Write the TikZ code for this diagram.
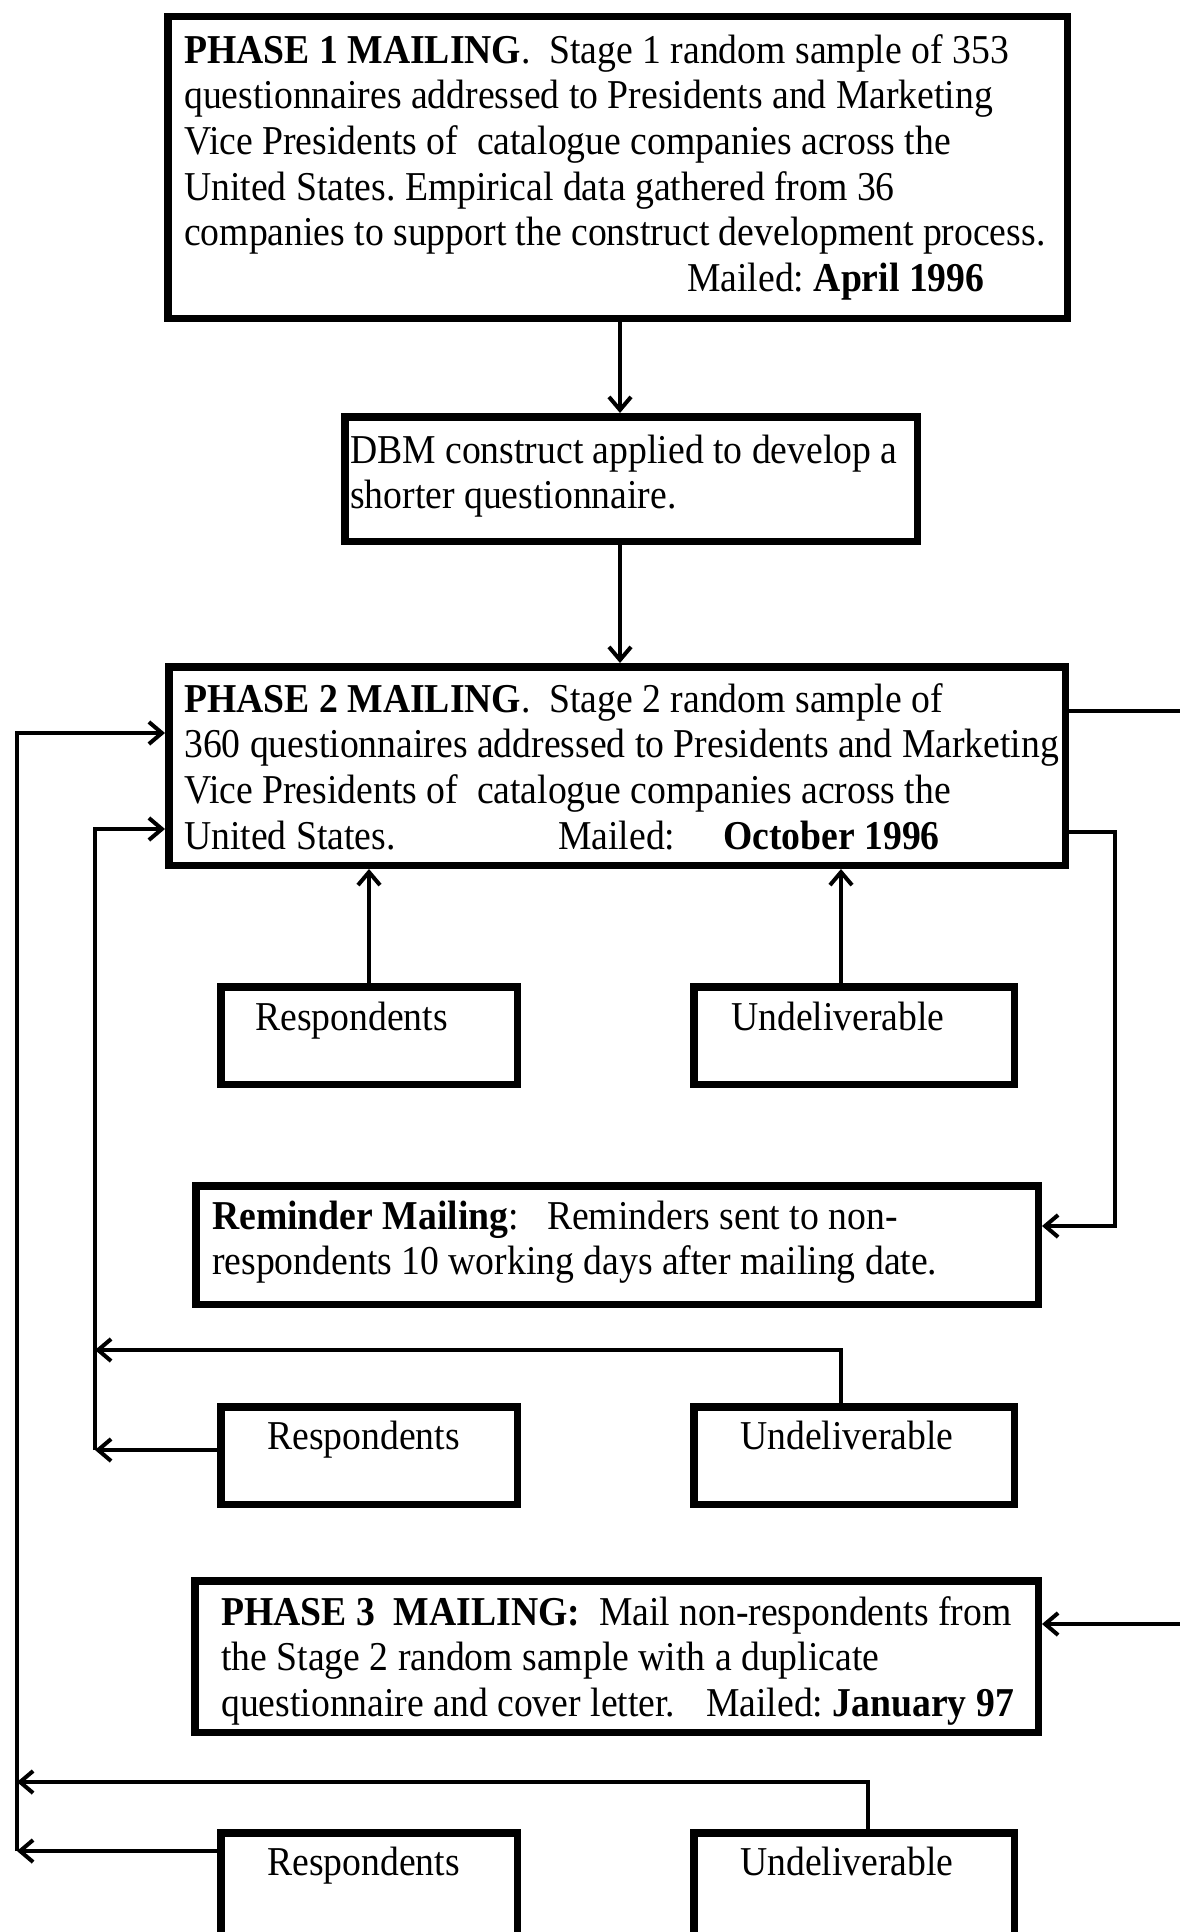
\documentclass[tikz,border=0pt]{standalone}
\usepackage{fontspec}
\setmainfont{Liberation Serif}[FakeStretch=0.919]
\usetikzlibrary{arrows.meta}
\newcommand\bodyfont{\fontsize{41pt}{45.6pt}\selectfont\frenchspacing}
\newcommand\firstline{\rule{0pt}{32pt}}

\begin{document}
\begin{tikzpicture}[x=1pt,y=-1pt,
  box/.style={draw, line width=7.5pt, rectangle, inner sep=0pt},
  txt/.style={anchor=north west, inner sep=0pt, align=left, font=\bodyfont},
  lbl/.style={anchor=base west, inner sep=0pt, font=\bodyfont},
  conn/.style={line width=4pt},
  arr/.style={conn, -{Straight Barb[length=13pt,width=22pt,line width=4pt]}}]

\fill[white] (0,0) rectangle (1179,1932);
\path[use as bounding box] (0,0) rectangle (1179,1932);

% ---------- boxes ----------
\node[box, minimum width=899.5pt, minimum height=301.5pt] (p1)  at (617.5,167.5) {};
\node[box, minimum width=572.5pt, minimum height=124.5pt] (dbm) at (631,479) {};
\node[box, minimum width=896.5pt, minimum height=198.5pt] (p2)  at (617,766) {};
\node[box, minimum width=296.5pt, minimum height=97.5pt]  (r1)  at (369,1035.5) {};
\node[box, minimum width=320.5pt, minimum height=97.5pt]  (u1)  at (854,1035.5) {};
\node[box, minimum width=842.5pt, minimum height=118.5pt] (rem) at (617,1245) {};
\node[box, minimum width=296.5pt, minimum height=97.5pt]  (r2)  at (369,1455.5) {};
\node[box, minimum width=320.5pt, minimum height=97.5pt]  (u2)  at (854,1455.5) {};
\node[box, minimum width=843.5pt, minimum height=151.5pt] (p3)  at (616.5,1656.5) {};
\node[box, minimum width=296.5pt, minimum height=123.5pt] (r3)  at (369,1894.5) {};
\node[box, minimum width=320.5pt, minimum height=123.5pt] (u3)  at (854,1894.5) {};

% ---------- texts ----------
\node[txt] (p1t) at (184,31) {\firstline\textbf{PHASE 1 MAILING}.\ \ Stage 1 random sample of 353\\
questionnaires addressed to Presidents and Marketing\\
Vice Presidents of\ \ catalogue companies across the\\
United States. Empirical data gathered from 36\\
companies to support the construct development process.\\
\hspace*{503pt}Mailed: \textbf{April 1996}};

\node[txt] (dbmt) at (350,431) {\firstline DBM construct applied to develop a\\
shorter questionnaire.};

\node[txt] (p2t) at (184,680) {\firstline\textbf{PHASE 2 MAILING}.\ \ Stage 2 random sample of\\
360 questionnaires addressed to Presidents and Marketing\\
Vice Presidents of\ \ catalogue companies across the\\
\makebox[374pt][l]{United States.}\makebox[165pt][l]{Mailed:}\textbf{October 1996}};

\node[lbl] (r1t) at (255,1030) {Respondents};
\node[lbl] (u1t) at (731,1030) {Undeliverable};

\node[txt] (remt) at (212,1197) {\firstline\textbf{Reminder Mailing}:\ \ \ Reminders sent to non-\\
respondents 10 working days after mailing date.};

\node[lbl] (r2t) at (267,1449) {Respondents};
\node[lbl] (u2t) at (740,1449) {Undeliverable};

\node[txt] (p3t) at (221,1593) {\firstline\textbf{PHASE 3\ \ MAILING:}\ \ Mail non-respondents from\\
the Stage 2 random sample with a duplicate\\
\makebox[485pt][l]{questionnaire and cover letter.}Mailed: \textbf{January 97}};

\node[lbl] (r3t) at (267,1875) {Respondents};
\node[lbl] (u3t) at (740,1875) {Undeliverable};

% ---------- routing points ----------
\coordinate (mx)  at (620,0);     % main vertical flow
\coordinate (u1x) at (841,0);
\coordinate (ib)  at (95,0);      % inner return bus
\coordinate (ob)  at (17,0);      % outer return bus
\coordinate (rA)  at (1190,711);  % phase 2 -> phase 3 (right side)
\coordinate (rB)  at (1190,1624);
\coordinate (sA)  at (1115,832);  % phase 2 -> reminder
\coordinate (sB)  at (1115,1226);
\coordinate (y829) at (0,829);
\coordinate (y733) at (0,733);
\coordinate (u2h) at (841,1350);
\coordinate (r2y) at (0,1450);
\coordinate (u3h) at (868,1782);
\coordinate (r3y) at (0,1851);

% ---------- connectors ----------
\draw[arr] (p1.south -| mx) -- (dbm.north -| mx);
\draw[arr] (dbm.south -| mx) -- (p2.north -| mx);

\draw[arr] (r1.north) -- (r1.north |- p2.south);
\draw[arr] (u1.north -| u1x) -- (p2.south -| u1x);

\draw[arr] (p2.east |- rA) -- (rA) -- (rB) -- (p3.east |- rB);
\draw[arr] (p2.east |- sA) -- (sA) -- (sB) -- (rem.east |- sB);

\draw[arr] (u2.north -| u2h) -- (u2h) -- (u2h -| ib);
\draw[arr] (r2.west |- r2y) -- (r2y -| ib);
\draw[arr] (r2y -| ib) -- (ib |- y829) -- (p2.west |- y829);

\draw[arr] (u3.north -| u3h) -- (u3h) -- (u3h -| ob);
\draw[arr] (r3.west |- r3y) -- (r3y -| ob);
\draw[arr] (r3y -| ob) -- (ob |- y733) -- (p2.west |- y733);
\end{tikzpicture}
\end{document}
